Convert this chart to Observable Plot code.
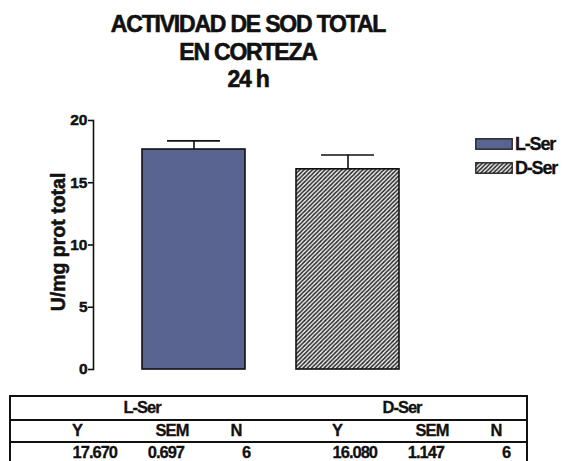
<!DOCTYPE html>
<html>
<head>
<meta charset="utf-8">
<script src="https://cdn.jsdelivr.net/npm/d3@7"></script>
<script src="https://cdn.jsdelivr.net/npm/@observablehq/plot@0.6"></script>
<style>
  body { margin: 0; background: #fff; }
  #page { position: relative; width: 570px; height: 461px; overflow: hidden; font-family: "Liberation Sans", Arial, sans-serif; font-weight: bold; color: #111; }
  #title { position: absolute; left: 0; top: 11px; width: 496px; text-align: center; font-size: 23px; letter-spacing: -1.2px; line-height: 27.5px; -webkit-text-stroke: 0.6px #111; }
  #chart { position: absolute; left: 0; top: 100px; }
  #chart text { paint-order: stroke; }
  #legend { position: absolute; left: 475px; top: 132px; }
  .legend-item { display: flex; align-items: center; height: 24px; font-size: 18px; letter-spacing: -1.2px; -webkit-text-stroke: 0.3px #111; }
  .legend-item svg { margin-right: 2px; }
  #table { position: absolute; left: 9px; top: 396px; width: 519px; height: 80px; border-left: 2px solid #111; border-right: 2px solid #111; box-sizing: border-box; }
  .hline { position: absolute; left: -2px; width: 519px; height: 0; border-top: 2px solid #111; }
  .cell { position: absolute; font-size: 16.5px; letter-spacing: -1px; white-space: nowrap; -webkit-text-stroke: 0.3px #111; }
</style>
</head>
<body>
<div id="page">
  <div id="title"></div>
  <div id="chart"></div>
  <div id="legend"></div>
  <div id="table"></div>
</div>
<script>
// Total SOD activity in cortex, 24 h
const titleLines = ["ACTIVIDAD DE SOD TOTAL", "EN CORTEZA", "24 h"];
const groups = ["L-Ser", "D-Ser"];
const means = [17.670, 16.080];
const sems = [0.697, 1.147];
const counts = [6, 6];
const yTicks = [0, 5, 10, 15, 20];
const yLabel = "U/mg prot total";
const statHeaders = ["Y", "SEM", "N"];

const data = groups.map((g, i) => ({group: g, mean: means[i], sem: sems[i], n: counts[i]}));
const fills = ["#5a6490", "url(#dser-hatch)"];

// Title
document.getElementById("title").innerHTML = titleLines.map(t => `<div>${t}</div>`).join("");

// Bar chart with SEM error bars
const chart = Plot.plot({
  width: 570,
  height: 290,
  marginLeft: 93,
  marginRight: 20,
  marginTop: 20,
  marginBottom: 21,
  style: {fontFamily: "Liberation Sans, Arial, sans-serif", background: "transparent", overflow: "visible"},
  x: {domain: groups, range: [142, 400], paddingInner: 0.33, paddingOuter: 0, axis: null},
  y: {domain: [0, 20], range: [269, 20]},
  color: {domain: groups, range: fills},
  marks: [
    Plot.barY(data, {x: "group", y: "mean", fill: "group", stroke: "#111", strokeWidth: 1.6}),
    Plot.ruleX(data, {x: "group", y1: "mean", y2: d => d.mean + d.sem, stroke: "#111", strokeWidth: 1.6}),
    Plot.tickY(data, {x: "group", y: d => d.mean + d.sem, insetLeft: 25, insetRight: 25, stroke: "#111", strokeWidth: 1.6}),
    Plot.frame({anchor: "left", stroke: "#111", strokeWidth: 1.6}),
    Plot.axisY(yTicks, {label: null, tickSize: 5, tickPadding: 1, fontSize: 15.5, fontWeight: "bold", stroke: "#111", strokeWidth: 1.6, fill: "#111", textStroke: "#111", textStrokeWidth: 0.5, style: {letterSpacing: "-1px"}}),
    Plot.text([yLabel], {frameAnchor: "left", textAnchor: "middle", dx: -35, dy: -3, rotate: -90, fontSize: 19.5, fontWeight: "bold", fill: "#111", stroke: "#111", strokeWidth: 0.5})
  ]
});

// Diagonal hatch used for the D-Ser bar and its swatch
const svgNS = "http://www.w3.org/2000/svg";
const defs = document.createElementNS(svgNS, "defs");
defs.innerHTML = `
  <pattern id="dser-hatch" patternUnits="userSpaceOnUse" width="4.2" height="4.2">
    <rect width="4.2" height="4.2" fill="#f2f2f2"/>
    <path d="M-1,1 l2,-2 M0,4.2 l4.2,-4.2 M3.2,5.2 l2,-2" stroke="#262626" stroke-width="1.5"/>
  </pattern>`;
chart.insertBefore(defs, chart.firstChild);
document.getElementById("chart").appendChild(chart);

// Legend
document.getElementById("legend").innerHTML = groups.map((g, i) => `
  <div class="legend-item">
    <svg width="38" height="12"><rect x="0.8" y="0.8" width="36.4" height="10.4" fill="${fills[i]}" stroke="#222" stroke-width="1.4"/></svg>
    <span>${g}</span>
  </div>`).join("");

// Summary table below the chart
const table = document.getElementById("table");
const rowLines = [0, 24, 46];
rowLines.forEach(y => {
  const d = document.createElement("div");
  d.className = "hline";
  d.style.top = (y - 1) + "px";
  table.appendChild(d);
});
function cell(text, x, y, align) {
  const d = document.createElement("div");
  d.className = "cell";
  d.textContent = text;
  d.style.top = (y - 10) + "px";
  if (align === "right") { d.style.right = (519 - x) + "px"; }
  else { d.style.left = x + "px"; d.style.transform = "translateX(-50%)"; }
  table.appendChild(d);
}
const halfOffset = 260;
groups.forEach((g, i) => {
  const o = i * halfOffset;
  cell(g, 131 + o, 12, "center");
  const headerX = [66, 161, 225];
  statHeaders.forEach((h, j) => cell(h, headerX[j] + o, 35, "center"));
  cell(means[i].toFixed(3), 110 + o, 57, "right");
  cell(sems[i].toFixed(3), 177 + o, 57, "right");
  cell(String(counts[i]), 235 + o, 57, "center");
});
</script>
</body>
</html>
